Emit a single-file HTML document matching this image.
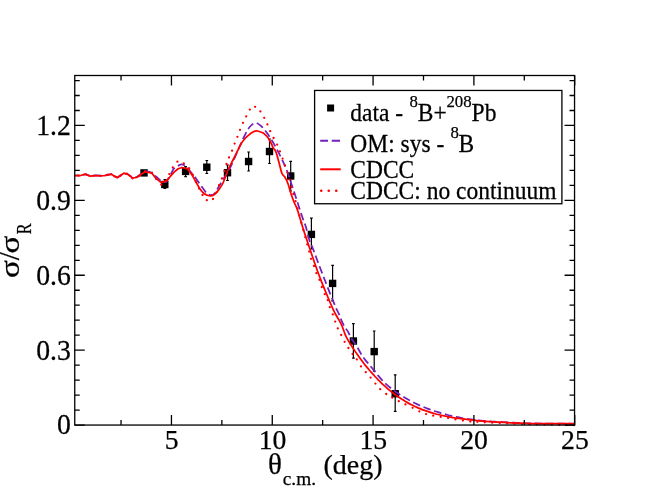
<!DOCTYPE html>
<html><head><meta charset="utf-8"><style>
html,body{margin:0;padding:0;background:#fff;}
svg{display:block;will-change:transform;font-family:"Liberation Serif", "DejaVu Serif", serif;}
text{fill:#000;stroke:#000;stroke-width:0.25px;}
</style></head><body>
<svg width="647" height="500" viewBox="0 0 647 500">
<rect width="647" height="500" fill="#fff"/>
<text transform="translate(70.9,434.45) scale(1,1.05)" text-anchor="end" font-size="27.7">0</text>
<text transform="translate(70.9,359.56) scale(1,1.05)" text-anchor="end" font-size="27.7">0.3</text>
<text transform="translate(70.9,284.66) scale(1,1.05)" text-anchor="end" font-size="27.7">0.6</text>
<text transform="translate(70.9,209.77) scale(1,1.05)" text-anchor="end" font-size="27.7">0.9</text>
<text transform="translate(70.9,134.87) scale(1,1.05)" text-anchor="end" font-size="27.7">1.2</text>
<text x="171.65" y="449.4" text-anchor="middle" font-size="27.7">5</text>
<text x="272.47" y="449.4" text-anchor="middle" font-size="27.7">10</text>
<text x="373.28" y="449.4" text-anchor="middle" font-size="27.7">15</text>
<text x="474.10" y="449.4" text-anchor="middle" font-size="27.7">20</text>
<text x="574.91" y="449.4" text-anchor="middle" font-size="27.7">25</text>
<text x="268.1" y="474.2" font-size="29">θ</text>
<text x="282.8" y="484.8" font-size="19.3">c.m.</text>
<text x="323.5" y="473.5" font-size="28">(deg)</text>
<g transform="rotate(-90)"><text transform="translate(-277.95,19.2) scale(1.14,0.96)" font-size="29">σ</text><text transform="translate(-260.3,19.4)" font-size="29">/</text><text transform="translate(-253.55,19.2) scale(1.14,0.96)" font-size="29">σ</text><text transform="translate(-234.17,30.5) scale(0.79,1)" font-size="20.5">R</text></g>
<path d="M144.00,171.00V175.00M142.65,171.00h2.7M142.65,175.00h2.7" stroke="#000" stroke-width="1.2" fill="none"/>
<rect x="140.30" y="169.20" width="7.4" height="7.4" fill="#000"/>
<path d="M164.80,179.70V188.30M163.45,179.70h2.7M163.45,188.30h2.7" stroke="#000" stroke-width="1.2" fill="none"/>
<rect x="161.10" y="180.80" width="7.4" height="7.4" fill="#000"/>
<path d="M185.60,166.50V176.60M184.25,166.50h2.7M184.25,176.60h2.7" stroke="#000" stroke-width="1.2" fill="none"/>
<rect x="181.90" y="167.70" width="7.4" height="7.4" fill="#000"/>
<path d="M206.80,160.50V173.50M205.45,160.50h2.7M205.45,173.50h2.7" stroke="#000" stroke-width="1.2" fill="none"/>
<rect x="203.10" y="163.50" width="7.4" height="7.4" fill="#000"/>
<path d="M227.50,165.00V180.50M226.15,165.00h2.7M226.15,180.50h2.7" stroke="#000" stroke-width="1.2" fill="none"/>
<rect x="223.80" y="169.00" width="7.4" height="7.4" fill="#000"/>
<path d="M248.60,152.00V171.00M247.25,152.00h2.7M247.25,171.00h2.7" stroke="#000" stroke-width="1.2" fill="none"/>
<rect x="244.90" y="157.80" width="7.4" height="7.4" fill="#000"/>
<path d="M269.50,139.00V163.50M268.15,139.00h2.7M268.15,163.50h2.7" stroke="#000" stroke-width="1.2" fill="none"/>
<rect x="265.80" y="147.80" width="7.4" height="7.4" fill="#000"/>
<path d="M290.70,161.40V191.00M289.35,161.40h2.7M289.35,191.00h2.7" stroke="#000" stroke-width="1.2" fill="none"/>
<rect x="287.00" y="172.30" width="7.4" height="7.4" fill="#000"/>
<path d="M311.40,218.20V249.00M310.05,218.20h2.7M310.05,249.00h2.7" stroke="#000" stroke-width="1.2" fill="none"/>
<rect x="307.70" y="230.70" width="7.4" height="7.4" fill="#000"/>
<path d="M332.60,265.40V300.80M331.25,265.40h2.7M331.25,300.80h2.7" stroke="#000" stroke-width="1.2" fill="none"/>
<rect x="328.90" y="279.70" width="7.4" height="7.4" fill="#000"/>
<path d="M353.40,323.60V358.20M352.05,323.60h2.7M352.05,358.20h2.7" stroke="#000" stroke-width="1.2" fill="none"/>
<rect x="349.70" y="337.30" width="7.4" height="7.4" fill="#000"/>
<path d="M374.20,331.00V371.20M372.85,331.00h2.7M372.85,371.20h2.7" stroke="#000" stroke-width="1.2" fill="none"/>
<rect x="370.50" y="347.90" width="7.4" height="7.4" fill="#000"/>
<path d="M395.20,374.80V411.40M393.85,374.80h2.7M393.85,411.40h2.7" stroke="#000" stroke-width="1.2" fill="none"/>
<rect x="391.50" y="390.00" width="7.4" height="7.4" fill="#000"/>
<path d="M74.80,175.50L80.50,175.40L85.40,174.30L90.20,176.00L95.60,175.40L101.00,175.70L105.40,175.40L111.30,174.20L117.30,177.40L123.80,173.20L128.10,174.40L132.40,177.40L136.80,176.90L141.90,173.30L145.30,171.20L149.60,171.90L156.50,176.90L161.00,181.00L165.80,182.20L170.00,176.00L173.50,168.80L179.70,164.80C181.52,164.22 182.68,164.27 184.40,165.30C186.12,166.33 188.07,168.80 190.00,171.00C191.93,173.20 194.00,175.83 196.00,178.50C198.00,181.17 200.17,184.50 202.00,187.00C203.83,189.50 205.50,192.17 207.00,193.50C208.50,194.83 209.75,195.00 211.00,195.00C212.25,195.00 213.33,194.67 214.50,193.50C215.67,192.33 216.42,190.58 218.00,188.00C219.58,185.42 222.00,181.33 224.00,178.00C226.00,174.67 228.17,171.50 230.00,168.00C231.83,164.50 233.50,160.33 235.00,157.00C236.50,153.67 237.67,151.00 239.00,148.00C240.33,145.00 241.43,142.23 243.00,139.00C244.57,135.77 246.90,131.00 248.40,128.60C249.90,126.20 250.70,125.57 252.00,124.60C253.30,123.63 254.70,122.57 256.20,122.80C257.70,123.03 259.70,124.93 261.00,126.00C262.30,127.07 263.00,128.07 264.00,129.24C265.00,130.41 266.00,131.66 267.00,133.01C268.00,134.36 269.00,135.83 270.00,137.37C271.00,138.91 272.00,140.56 273.00,142.27C274.00,143.98 275.00,145.79 276.00,147.65C277.00,149.51 278.00,151.46 279.00,153.45C280.00,155.44 281.00,157.50 282.00,159.61C283.00,161.72 284.00,163.78 285.00,166.08C286.00,168.38 287.00,170.66 288.00,173.42C289.00,176.18 290.00,179.63 291.00,182.66C292.00,185.69 293.00,188.61 294.00,191.61C295.00,194.61 296.00,197.59 297.00,200.68C298.00,203.77 299.00,207.09 300.00,210.16C301.00,213.23 302.00,216.27 303.00,219.12C304.00,221.97 305.00,223.94 306.00,227.26C307.00,230.57 308.00,235.81 309.00,239.01C310.00,242.21 311.00,243.91 312.00,246.44C313.00,248.97 314.00,251.51 315.00,254.16C316.00,256.81 317.00,259.68 318.00,262.35C319.00,265.02 320.00,267.60 321.00,270.20C322.00,272.80 323.00,275.38 324.00,277.97C325.00,280.56 326.00,283.16 327.00,285.72C328.00,288.29 329.00,290.85 330.00,293.36C331.00,295.87 332.00,298.36 333.00,300.78C334.00,303.20 335.00,305.64 336.00,307.88C337.00,310.12 338.00,311.91 339.00,314.19C340.00,316.47 341.00,319.32 342.00,321.55C343.00,323.78 344.00,325.90 345.00,327.57C346.00,329.24 347.00,329.81 348.00,331.57C349.00,333.33 350.00,336.36 351.00,338.11C352.00,339.86 353.00,340.66 354.00,342.09C355.00,343.52 356.00,345.04 357.00,346.69C358.00,348.34 359.00,350.30 360.00,351.99C361.00,353.69 362.00,355.38 363.00,356.86C364.00,358.34 365.00,359.62 366.00,360.89C367.00,362.16 368.00,363.29 369.00,364.48C370.00,365.67 371.00,366.84 372.00,368.05C373.00,369.26 374.00,370.51 375.00,371.74C376.00,372.97 377.00,374.21 378.00,375.41C379.00,376.61 380.00,377.80 381.00,378.92C382.00,380.04 383.00,381.11 384.00,382.11C385.00,383.11 386.00,384.03 387.00,384.92C388.00,385.81 389.00,386.64 390.00,387.45C391.00,388.26 392.00,389.03 393.00,389.79C394.00,390.55 395.00,391.28 396.00,391.99C397.00,392.70 398.00,393.38 399.00,394.05C400.00,394.72 401.00,395.36 402.00,395.99C403.00,396.62 404.00,397.22 405.00,397.81C406.00,398.40 407.00,398.97 408.00,399.53C409.00,400.08 410.00,400.62 411.00,401.14C412.00,401.66 413.00,402.17 414.00,402.66C415.00,403.15 416.00,403.64 417.00,404.10C418.00,404.56 419.00,405.01 420.00,405.45C421.00,405.89 422.00,406.32 423.00,406.74C424.00,407.16 425.00,407.56 426.00,407.96C427.00,408.36 428.00,408.75 429.00,409.12C430.00,409.50 431.00,409.86 432.00,410.21C433.00,410.56 434.00,410.91 435.00,411.24C436.00,411.57 437.00,411.90 438.00,412.21C439.00,412.52 440.00,412.83 441.00,413.12C442.00,413.41 443.00,413.70 444.00,413.97C445.00,414.25 446.00,414.51 447.00,414.77C448.00,415.03 449.00,415.28 450.00,415.52C451.00,415.76 452.00,416.00 453.00,416.22C454.00,416.44 455.00,416.65 456.00,416.86C457.00,417.07 458.00,417.28 459.00,417.47C460.00,417.66 461.00,417.84 462.00,418.02C463.00,418.20 464.00,418.36 465.00,418.53C466.00,418.69 467.00,418.86 468.00,419.01C469.00,419.16 470.00,419.30 471.00,419.44C472.00,419.58 473.00,419.70 474.00,419.83C475.00,419.95 476.00,420.07 477.00,420.19C478.00,420.31 479.00,420.41 480.00,420.52C481.00,420.62 482.00,420.73 483.00,420.82C484.00,420.91 485.00,421.00 486.00,421.08C487.00,421.16 488.00,421.25 489.00,421.32C490.00,421.39 491.00,421.46 492.00,421.53C493.00,421.59 494.00,421.65 495.00,421.71C496.00,421.77 493.00,421.62 498.00,421.88C503.00,422.14 517.17,422.96 525.00,423.25C532.83,423.54 536.73,423.52 545.00,423.60C553.27,423.68 569.67,423.73 574.60,423.75" stroke-linejoin="round" stroke="#7221bc" stroke-width="1.75" fill="none" stroke-dasharray="7.6 3.695" stroke-dashoffset="3.55"/>
<path d="M74.80,175.50L80.50,175.50L85.40,174.20L90.20,176.10L95.60,175.50L101.00,175.80L105.40,175.50L111.30,174.20L117.30,177.70L123.80,173.20L128.10,174.50L132.40,177.90L136.80,177.50L141.90,173.80L145.30,171.80L148.00,172.30L151.50,172.80L155.80,178.10L161.20,182.60L164.30,181.60L167.00,180.40L170.50,176.20L174.30,171.90L178.20,168.80L181.30,167.70C182.33,167.57 183.28,167.70 184.40,168.00C185.52,168.30 186.73,168.33 188.00,169.50C189.27,170.67 190.67,172.92 192.00,175.00C193.33,177.08 194.67,179.67 196.00,182.00C197.33,184.33 198.67,187.08 200.00,189.00C201.33,190.92 202.67,192.42 204.00,193.50C205.33,194.58 206.75,195.12 208.00,195.50C209.25,195.88 210.33,196.05 211.50,195.80C212.67,195.55 213.75,195.05 215.00,194.00C216.25,192.95 217.67,191.33 219.00,189.50C220.33,187.67 221.50,186.25 223.00,183.00C224.50,179.75 226.33,173.83 228.00,170.00C229.67,166.17 231.50,163.00 233.00,160.00C234.50,157.00 235.67,154.67 237.00,152.00C238.33,149.33 239.67,146.25 241.00,144.00C242.33,141.75 243.50,140.17 245.00,138.50C246.50,136.83 248.67,135.08 250.00,134.00C251.33,132.92 251.87,132.53 253.00,132.00C254.13,131.47 255.30,130.72 256.80,130.80C258.30,130.88 260.80,132.03 262.00,132.50C263.20,132.97 263.17,132.92 264.00,133.59C264.83,134.26 266.00,135.27 267.00,136.50C268.00,137.73 269.00,139.16 270.00,140.96C271.00,142.76 272.00,145.44 273.00,147.30C274.00,149.16 275.00,149.57 276.00,152.11C277.00,154.66 278.00,159.00 279.00,162.57C280.00,166.14 281.00,171.09 282.00,173.53C283.00,175.97 284.00,175.55 285.00,177.24C286.00,178.93 287.00,180.94 288.00,183.69C289.00,186.44 290.00,190.66 291.00,193.71C292.00,196.76 293.00,199.51 294.00,202.00C295.00,204.49 296.00,205.94 297.00,208.66C298.00,211.38 299.00,215.05 300.00,218.30C301.00,221.55 302.00,224.99 303.00,228.17C304.00,231.35 305.00,234.38 306.00,237.39C307.00,240.40 308.00,243.26 309.00,246.23C310.00,249.20 311.00,252.24 312.00,255.21C313.00,258.18 314.00,261.19 315.00,264.07C316.00,266.95 317.00,269.78 318.00,272.49C319.00,275.20 320.00,277.80 321.00,280.35C322.00,282.91 323.00,285.37 324.00,287.82C325.00,290.27 326.00,292.66 327.00,295.06C328.00,297.46 329.00,299.90 330.00,302.23C331.00,304.56 332.00,306.92 333.00,309.04C334.00,311.16 335.00,313.14 336.00,314.96C337.00,316.78 338.00,318.13 339.00,319.96C340.00,321.79 341.00,323.60 342.00,325.95C343.00,328.30 344.00,331.68 345.00,334.05C346.00,336.42 347.00,338.35 348.00,340.18C349.00,342.01 350.00,343.44 351.00,345.02C352.00,346.59 353.00,348.12 354.00,349.63C355.00,351.13 356.00,352.61 357.00,354.05C358.00,355.49 359.00,356.90 360.00,358.27C361.00,359.64 362.00,360.98 363.00,362.29C364.00,363.60 365.00,364.87 366.00,366.11C367.00,367.35 368.00,368.56 369.00,369.74C370.00,370.92 371.00,372.08 372.00,373.20C373.00,374.32 374.00,375.41 375.00,376.48C376.00,377.55 377.00,378.59 378.00,379.60C379.00,380.62 380.00,381.61 381.00,382.57C382.00,383.53 383.00,384.47 384.00,385.39C385.00,386.31 386.00,387.20 387.00,388.07C388.00,388.94 389.00,389.77 390.00,390.59C391.00,391.41 392.00,392.21 393.00,392.98C394.00,393.75 395.00,394.50 396.00,395.22C397.00,395.95 398.00,396.65 399.00,397.33C400.00,398.01 401.00,398.66 402.00,399.30C403.00,399.94 404.00,400.55 405.00,401.15C406.00,401.75 407.00,402.32 408.00,402.88C409.00,403.44 410.00,403.96 411.00,404.48C412.00,405.00 413.00,405.50 414.00,405.98C415.00,406.46 416.00,406.93 417.00,407.37C418.00,407.81 419.00,408.24 420.00,408.65C421.00,409.06 422.00,409.46 423.00,409.84C424.00,410.22 425.00,410.59 426.00,410.94C427.00,411.29 428.00,411.63 429.00,411.95C430.00,412.27 431.00,412.58 432.00,412.88C433.00,413.18 434.00,413.47 435.00,413.74C436.00,414.01 437.00,414.27 438.00,414.52C439.00,414.77 440.00,415.01 441.00,415.24C442.00,415.47 443.00,415.69 444.00,415.90C445.00,416.11 446.00,416.31 447.00,416.50C448.00,416.69 449.00,416.87 450.00,417.05C451.00,417.23 452.00,417.40 453.00,417.56C454.00,417.72 455.00,417.87 456.00,418.02C457.00,418.17 458.00,418.32 459.00,418.46C460.00,418.60 461.00,418.73 462.00,418.86C463.00,418.99 464.00,419.11 465.00,419.23C466.00,419.35 467.00,419.47 468.00,419.59C469.00,419.71 470.00,419.82 471.00,419.93C472.00,420.04 473.00,420.14 474.00,420.24C475.00,420.34 476.00,420.44 477.00,420.54C478.00,420.64 479.00,420.73 480.00,420.82C481.00,420.91 482.00,421.00 483.00,421.09C484.00,421.17 485.00,421.25 486.00,421.33C487.00,421.41 488.00,421.49 489.00,421.56C490.00,421.63 491.00,421.71 492.00,421.78C493.00,421.85 494.00,421.92 495.00,421.98C496.00,422.05 495.35,422.03 498.00,422.17C500.65,422.31 506.17,422.61 510.90,422.80C515.63,422.99 521.25,423.18 526.40,423.30C531.55,423.43 533.77,423.48 541.80,423.55C549.83,423.62 569.13,423.68 574.60,423.70" stroke-linejoin="round" stroke="#f00" stroke-width="1.75" fill="none"/>
<path d="M77.63,175.59a1.15,1.15 0 1,0 2.3,0a1.15,1.15 0 1,0 -2.3,0M84.87,174.31a1.15,1.15 0 1,0 2.3,0a1.15,1.15 0 1,0 -2.3,0M91.91,175.86a1.15,1.15 0 1,0 2.3,0a1.15,1.15 0 1,0 -2.3,0M99.32,175.79a1.15,1.15 0 1,0 2.3,0a1.15,1.15 0 1,0 -2.3,0M106.64,174.76a1.15,1.15 0 1,0 2.3,0a1.15,1.15 0 1,0 -2.3,0M113.25,176.41a1.15,1.15 0 1,0 2.3,0a1.15,1.15 0 1,0 -2.3,0M119.45,175.59a1.15,1.15 0 1,0 2.3,0a1.15,1.15 0 1,0 -2.3,0M125.67,173.60a1.15,1.15 0 1,0 2.3,0a1.15,1.15 0 1,0 -2.3,0M131.29,178.42a1.15,1.15 0 1,0 2.3,0a1.15,1.15 0 1,0 -2.3,0M137.96,175.97a1.15,1.15 0 1,0 2.3,0a1.15,1.15 0 1,0 -2.3,0M143.85,171.50a1.15,1.15 0 1,0 2.3,0a1.15,1.15 0 1,0 -2.3,0M150.75,172.70a1.15,1.15 0 1,0 2.3,0a1.15,1.15 0 1,0 -2.3,0M155.05,178.90a1.15,1.15 0 1,0 2.3,0a1.15,1.15 0 1,0 -2.3,0M160.05,184.70a1.15,1.15 0 1,0 2.3,0a1.15,1.15 0 1,0 -2.3,0M165.85,180.40a1.15,1.15 0 1,0 2.3,0a1.15,1.15 0 1,0 -2.3,0M168.15,174.10a1.15,1.15 0 1,0 2.3,0a1.15,1.15 0 1,0 -2.3,0M171.65,167.40a1.15,1.15 0 1,0 2.3,0a1.15,1.15 0 1,0 -2.3,0M176.25,161.70a1.15,1.15 0 1,0 2.3,0a1.15,1.15 0 1,0 -2.3,0M182.65,163.40a1.15,1.15 0 1,0 2.3,0a1.15,1.15 0 1,0 -2.3,0M188.03,168.46a1.15,1.15 0 1,0 2.3,0a1.15,1.15 0 1,0 -2.3,0M191.78,174.89a1.15,1.15 0 1,0 2.3,0a1.15,1.15 0 1,0 -2.3,0M194.73,181.73a1.15,1.15 0 1,0 2.3,0a1.15,1.15 0 1,0 -2.3,0M197.85,188.50a1.15,1.15 0 1,0 2.3,0a1.15,1.15 0 1,0 -2.3,0M201.35,195.00a1.15,1.15 0 1,0 2.3,0a1.15,1.15 0 1,0 -2.3,0M205.67,200.14a1.15,1.15 0 1,0 2.3,0a1.15,1.15 0 1,0 -2.3,0M211.85,199.00a1.15,1.15 0 1,0 2.3,0a1.15,1.15 0 1,0 -2.3,0M215.31,192.32a1.15,1.15 0 1,0 2.3,0a1.15,1.15 0 1,0 -2.3,0M217.85,185.20a1.15,1.15 0 1,0 2.3,0a1.15,1.15 0 1,0 -2.3,0M220.85,178.50a1.15,1.15 0 1,0 2.3,0a1.15,1.15 0 1,0 -2.3,0M223.35,171.00a1.15,1.15 0 1,0 2.3,0a1.15,1.15 0 1,0 -2.3,0M225.35,164.00a1.15,1.15 0 1,0 2.3,0a1.15,1.15 0 1,0 -2.3,0M227.85,157.50a1.15,1.15 0 1,0 2.3,0a1.15,1.15 0 1,0 -2.3,0M230.95,150.70a1.15,1.15 0 1,0 2.3,0a1.15,1.15 0 1,0 -2.3,0M233.45,143.60a1.15,1.15 0 1,0 2.3,0a1.15,1.15 0 1,0 -2.3,0M236.25,136.80a1.15,1.15 0 1,0 2.3,0a1.15,1.15 0 1,0 -2.3,0M238.85,129.80a1.15,1.15 0 1,0 2.3,0a1.15,1.15 0 1,0 -2.3,0M241.85,122.80a1.15,1.15 0 1,0 2.3,0a1.15,1.15 0 1,0 -2.3,0M245.05,116.40a1.15,1.15 0 1,0 2.3,0a1.15,1.15 0 1,0 -2.3,0M248.65,109.60a1.15,1.15 0 1,0 2.3,0a1.15,1.15 0 1,0 -2.3,0M253.95,106.80a1.15,1.15 0 1,0 2.3,0a1.15,1.15 0 1,0 -2.3,0M259.25,111.40a1.15,1.15 0 1,0 2.3,0a1.15,1.15 0 1,0 -2.3,0M263.05,117.80a1.15,1.15 0 1,0 2.3,0a1.15,1.15 0 1,0 -2.3,0M266.25,124.40a1.15,1.15 0 1,0 2.3,0a1.15,1.15 0 1,0 -2.3,0M269.05,131.20a1.15,1.15 0 1,0 2.3,0a1.15,1.15 0 1,0 -2.3,0M272.45,138.00a1.15,1.15 0 1,0 2.3,0a1.15,1.15 0 1,0 -2.3,0M275.95,144.60a1.15,1.15 0 1,0 2.3,0a1.15,1.15 0 1,0 -2.3,0M278.75,151.40a1.15,1.15 0 1,0 2.3,0a1.15,1.15 0 1,0 -2.3,0M281.45,158.60a1.15,1.15 0 1,0 2.3,0a1.15,1.15 0 1,0 -2.3,0M283.85,165.40a1.15,1.15 0 1,0 2.3,0a1.15,1.15 0 1,0 -2.3,0M286.25,172.60a1.15,1.15 0 1,0 2.3,0a1.15,1.15 0 1,0 -2.3,0M288.45,179.60a1.15,1.15 0 1,0 2.3,0a1.15,1.15 0 1,0 -2.3,0M290.25,186.80a1.15,1.15 0 1,0 2.3,0a1.15,1.15 0 1,0 -2.3,0M292.25,194.00a1.15,1.15 0 1,0 2.3,0a1.15,1.15 0 1,0 -2.3,0M294.41,201.15a1.15,1.15 0 1,0 2.3,0a1.15,1.15 0 1,0 -2.3,0M296.37,208.35a1.15,1.15 0 1,0 2.3,0a1.15,1.15 0 1,0 -2.3,0M298.30,215.56a1.15,1.15 0 1,0 2.3,0a1.15,1.15 0 1,0 -2.3,0M300.25,222.77a1.15,1.15 0 1,0 2.3,0a1.15,1.15 0 1,0 -2.3,0M302.20,229.98a1.15,1.15 0 1,0 2.3,0a1.15,1.15 0 1,0 -2.3,0M304.16,237.18a1.15,1.15 0 1,0 2.3,0a1.15,1.15 0 1,0 -2.3,0M306.11,244.39a1.15,1.15 0 1,0 2.3,0a1.15,1.15 0 1,0 -2.3,0M308.05,251.60a1.15,1.15 0 1,0 2.3,0a1.15,1.15 0 1,0 -2.3,0M309.85,258.80a1.15,1.15 0 1,0 2.3,0a1.15,1.15 0 1,0 -2.3,0M312.85,266.00a1.15,1.15 0 1,0 2.3,0a1.15,1.15 0 1,0 -2.3,0M315.25,273.20a1.15,1.15 0 1,0 2.3,0a1.15,1.15 0 1,0 -2.3,0M318.25,279.80a1.15,1.15 0 1,0 2.3,0a1.15,1.15 0 1,0 -2.3,0M320.65,287.00a1.15,1.15 0 1,0 2.3,0a1.15,1.15 0 1,0 -2.3,0M323.65,294.20a1.15,1.15 0 1,0 2.3,0a1.15,1.15 0 1,0 -2.3,0M326.65,300.20a1.15,1.15 0 1,0 2.3,0a1.15,1.15 0 1,0 -2.3,0M328.65,307.20a1.15,1.15 0 1,0 2.3,0a1.15,1.15 0 1,0 -2.3,0M331.65,314.40a1.15,1.15 0 1,0 2.3,0a1.15,1.15 0 1,0 -2.3,0M334.05,321.60a1.15,1.15 0 1,0 2.3,0a1.15,1.15 0 1,0 -2.3,0M336.65,328.40a1.15,1.15 0 1,0 2.3,0a1.15,1.15 0 1,0 -2.3,0M340.05,335.00a1.15,1.15 0 1,0 2.3,0a1.15,1.15 0 1,0 -2.3,0M343.45,341.80a1.15,1.15 0 1,0 2.3,0a1.15,1.15 0 1,0 -2.3,0M347.25,348.00a1.15,1.15 0 1,0 2.3,0a1.15,1.15 0 1,0 -2.3,0M351.45,354.00a1.15,1.15 0 1,0 2.3,0a1.15,1.15 0 1,0 -2.3,0M355.65,359.40a1.15,1.15 0 1,0 2.3,0a1.15,1.15 0 1,0 -2.3,0M359.85,366.40a1.15,1.15 0 1,0 2.3,0a1.15,1.15 0 1,0 -2.3,0M364.65,372.20a1.15,1.15 0 1,0 2.3,0a1.15,1.15 0 1,0 -2.3,0M369.45,377.60a1.15,1.15 0 1,0 2.3,0a1.15,1.15 0 1,0 -2.3,0M374.25,383.60a1.15,1.15 0 1,0 2.3,0a1.15,1.15 0 1,0 -2.3,0M379.05,389.20a1.15,1.15 0 1,0 2.3,0a1.15,1.15 0 1,0 -2.3,0M385.05,394.00a1.15,1.15 0 1,0 2.3,0a1.15,1.15 0 1,0 -2.3,0M391.05,397.60a1.15,1.15 0 1,0 2.3,0a1.15,1.15 0 1,0 -2.3,0M397.65,401.20a1.15,1.15 0 1,0 2.3,0a1.15,1.15 0 1,0 -2.3,0M404.25,404.40a1.15,1.15 0 1,0 2.3,0a1.15,1.15 0 1,0 -2.3,0M411.45,407.80a1.15,1.15 0 1,0 2.3,0a1.15,1.15 0 1,0 -2.3,0M418.15,411.30a1.15,1.15 0 1,0 2.3,0a1.15,1.15 0 1,0 -2.3,0M424.95,414.10a1.15,1.15 0 1,0 2.3,0a1.15,1.15 0 1,0 -2.3,0M432.05,415.70a1.15,1.15 0 1,0 2.3,0a1.15,1.15 0 1,0 -2.3,0M439.55,416.90a1.15,1.15 0 1,0 2.3,0a1.15,1.15 0 1,0 -2.3,0M446.95,418.10a1.15,1.15 0 1,0 2.3,0a1.15,1.15 0 1,0 -2.3,0M454.35,419.40a1.15,1.15 0 1,0 2.3,0a1.15,1.15 0 1,0 -2.3,0M461.75,420.60a1.15,1.15 0 1,0 2.3,0a1.15,1.15 0 1,0 -2.3,0M469.15,421.50a1.15,1.15 0 1,0 2.3,0a1.15,1.15 0 1,0 -2.3,0M476.25,421.80a1.15,1.15 0 1,0 2.3,0a1.15,1.15 0 1,0 -2.3,0M483.65,422.30a1.15,1.15 0 1,0 2.3,0a1.15,1.15 0 1,0 -2.3,0M491.09,422.66a1.15,1.15 0 1,0 2.3,0a1.15,1.15 0 1,0 -2.3,0M498.53,422.99a1.15,1.15 0 1,0 2.3,0a1.15,1.15 0 1,0 -2.3,0M505.98,423.31a1.15,1.15 0 1,0 2.3,0a1.15,1.15 0 1,0 -2.3,0M513.42,423.64a1.15,1.15 0 1,0 2.3,0a1.15,1.15 0 1,0 -2.3,0M520.86,423.94a1.15,1.15 0 1,0 2.3,0a1.15,1.15 0 1,0 -2.3,0M528.31,424.18a1.15,1.15 0 1,0 2.3,0a1.15,1.15 0 1,0 -2.3,0M535.76,424.38a1.15,1.15 0 1,0 2.3,0a1.15,1.15 0 1,0 -2.3,0M543.20,424.56a1.15,1.15 0 1,0 2.3,0a1.15,1.15 0 1,0 -2.3,0M550.65,424.72a1.15,1.15 0 1,0 2.3,0a1.15,1.15 0 1,0 -2.3,0M558.10,424.88a1.15,1.15 0 1,0 2.3,0a1.15,1.15 0 1,0 -2.3,0M565.55,425.03a1.15,1.15 0 1,0 2.3,0a1.15,1.15 0 1,0 -2.3,0M573.00,425.19a1.15,1.15 0 1,0 2.3,0a1.15,1.15 0 1,0 -2.3,0" fill="#f00"/>
<rect x="74.75" y="75.5" width="499.80" height="349.55" fill="none" stroke="#000" stroke-width="1.3"/>
<path d="M74.75,425.05h10M574.55,425.05h-10M74.75,410.07h5M574.55,410.07h-5M74.75,395.09h5M574.55,395.09h-5M74.75,380.11h5M574.55,380.11h-5M74.75,365.13h5M574.55,365.13h-5M74.75,350.16h10M574.55,350.16h-10M74.75,335.18h5M574.55,335.18h-5M74.75,320.20h5M574.55,320.20h-5M74.75,305.22h5M574.55,305.22h-5M74.75,290.24h5M574.55,290.24h-5M74.75,275.26h10M574.55,275.26h-10M74.75,260.28h5M574.55,260.28h-5M74.75,245.30h5M574.55,245.30h-5M74.75,230.32h5M574.55,230.32h-5M74.75,215.34h5M574.55,215.34h-5M74.75,200.37h10M574.55,200.37h-10M74.75,185.39h5M574.55,185.39h-5M74.75,170.41h5M574.55,170.41h-5M74.75,155.43h5M574.55,155.43h-5M74.75,140.45h5M574.55,140.45h-5M74.75,125.47h10M574.55,125.47h-10M74.75,110.49h5M574.55,110.49h-5M74.75,95.51h5M574.55,95.51h-5M74.75,80.53h5M574.55,80.53h-5M121.04,425.05v-5M121.04,75.5v5M171.45,425.05v-10M171.45,75.5v10M221.86,425.05v-5M221.86,75.5v5M272.27,425.05v-10M272.27,75.5v10M322.67,425.05v-5M322.67,75.5v5M373.08,425.05v-10M373.08,75.5v10M423.49,425.05v-5M423.49,75.5v5M473.90,425.05v-10M473.90,75.5v10M524.30,425.05v-5M524.30,75.5v5M574.71,425.05v-10M574.71,75.5v10" stroke="#000" stroke-width="1.3" fill="none"/>
<rect x="314.6" y="90.45" width="247.3" height="113.3" fill="#fff" stroke="#000" stroke-width="1.3"/>
<rect x="327.1" y="104.5" width="7" height="7" fill="#000"/>
<path d="M320.2,140.8h7.8M331.7,140.8h8.3" stroke="#7221bc" stroke-width="2"/>
<path d="M320.2,169.3h20.5" stroke="#f00" stroke-width="2"/>
<path d="M321.25,190.75h0.01M328.75,190.75h0.01M336.25,190.75h0.01" stroke="#f00" stroke-width="2.6" stroke-linecap="round"/>
<text transform="translate(350.3,120.7) scale(1,1.07)" font-size="23.5">data -</text>
<text x="409.5" y="106.6" font-size="16.8">8</text>
<text transform="translate(417.75,120.7) scale(1,1.07)" font-size="23.5">B+</text>
<text x="446.4" y="106.6" font-size="16.8">208</text>
<text transform="translate(471.6,120.7) scale(1,1.07)" font-size="23.5">Pb</text>
<text transform="translate(350.3,151.7) scale(1,1.07)" font-size="23.5">OM: sys -</text>
<text x="450.4" y="137.6" font-size="16.8">8</text>
<text transform="translate(458.5,151.7) scale(1,1.07)" font-size="23.5">B</text>
<text transform="translate(350.3,177.6) scale(1,1.07)" font-size="23.5">CDCC</text>
<text transform="translate(350.3,199.2) scale(1,1.07)" font-size="23.5">CDCC: no continuum</text>
</svg>
</body></html>
